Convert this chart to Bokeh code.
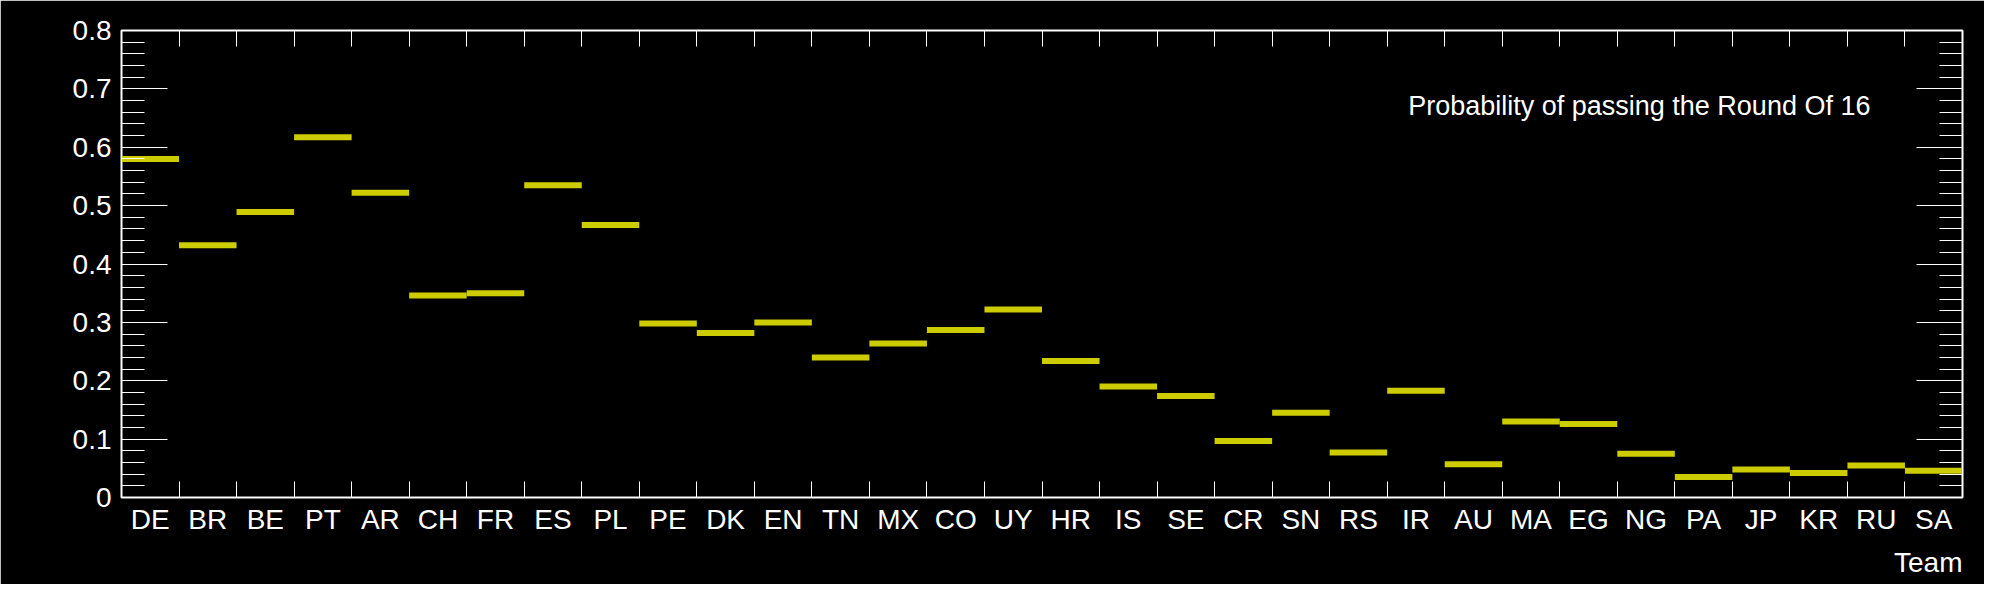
from bokeh.plotting import figure
from bokeh.models import FixedTicker, LinearAxis, Label, ColumnDataSource, Range1d, Title
from bokeh.embed import file_html
from bokeh.resources import INLINE

teams = ["DE", "BR", "BE", "PT", "AR", "CH", "FR", "ES", "PL", "PE", "DK", "EN", "TN", "MX", "CO", "UY",
         "HR", "IS", "SE", "CR", "SN", "RS", "IR", "AU", "MA", "EG", "NG", "PA", "JP", "KR", "RU", "SA"]
prob = [0.580, 0.432, 0.489, 0.617, 0.522, 0.346, 0.350, 0.535, 0.467, 0.298, 0.282, 0.300, 0.240, 0.264, 0.287, 0.322,
        0.234, 0.190, 0.174, 0.097, 0.145, 0.077, 0.183, 0.057, 0.130, 0.126, 0.075, 0.035, 0.048, 0.042, 0.055, 0.046]
title_text = "Probability of passing the Round Of 16"

n = len(teams)
font = "Liberation Sans"

p = figure(width=1984, height=584, output_backend="svg", toolbar_location=None,
           x_range=Range1d(0, n), y_range=Range1d(0, 0.8),
           background_fill_color="black", border_fill_color="black",
           min_border_left=121, min_border_right=22, min_border_top=30, min_border_bottom=50)
p.outline_line_color = "white"
p.outline_line_width = 2
p.xgrid.visible = False
p.ygrid.visible = False

src = ColumnDataSource(dict(x0=list(range(n)), x1=[i + 1 for i in range(n)], y=prob))
p.segment(x0="x0", x1="x1", y0="y", y1="y", source=src, line_color="#cccc00", line_width=6)

centers = [i + 0.5 for i in range(n)]
bounds = list(range(n + 1))
xt = FixedTicker(ticks=centers, minor_ticks=bounds)
yticks = [round(0.1 * i, 1) for i in range(9)]
yminor = [round(0.02 * i, 2) for i in range(41)]
yt = FixedTicker(ticks=yticks, minor_ticks=yminor)

def style(ax, labels=True):
    ax.axis_line_color = "white"
    ax.major_tick_line_color = "white"
    ax.minor_tick_line_color = "white"
    ax.major_label_text_color = "white" if labels else None
    ax.major_label_text_font = font
    ax.major_label_text_font_size = "28px"
    ax.minor_tick_out = 0
    ax.major_tick_out = 0

p.xaxis.ticker = xt
p.xaxis.major_label_overrides = {c: t for c, t in zip(centers, teams)}
style(p.xaxis[0])
p.xaxis.major_tick_in = 0
p.xaxis.minor_tick_in = 16
p.xaxis.major_label_standoff = 6

p.yaxis.ticker = yt
p.yaxis.major_label_overrides = {v: ("0" if v == 0 else f"{v:.1f}") for v in yticks}
style(p.yaxis[0])
p.yaxis.major_tick_in = 46
p.yaxis.minor_tick_in = 23
p.yaxis.major_label_standoff = 10

top = LinearAxis(ticker=xt)
style(top, labels=False)
top.major_tick_in = 0
top.minor_tick_in = 16
p.add_layout(top, "above")

right = LinearAxis(ticker=yt)
style(right, labels=False)
right.major_tick_in = 46
right.minor_tick_in = 23
p.add_layout(right, "right")

p.add_layout(Title(text="Team", align="right", text_color="white", text_font=font,
                   text_font_size="28px", text_font_style="normal", standoff=14), "below")
p.add_layout(Label(x=30.4, y=0.67, text=title_text, text_align="right", text_baseline="middle",
                   text_color="white", text_font=font, text_font_size="27px"))

open("out.html", "w").write(file_html(p, INLINE))
